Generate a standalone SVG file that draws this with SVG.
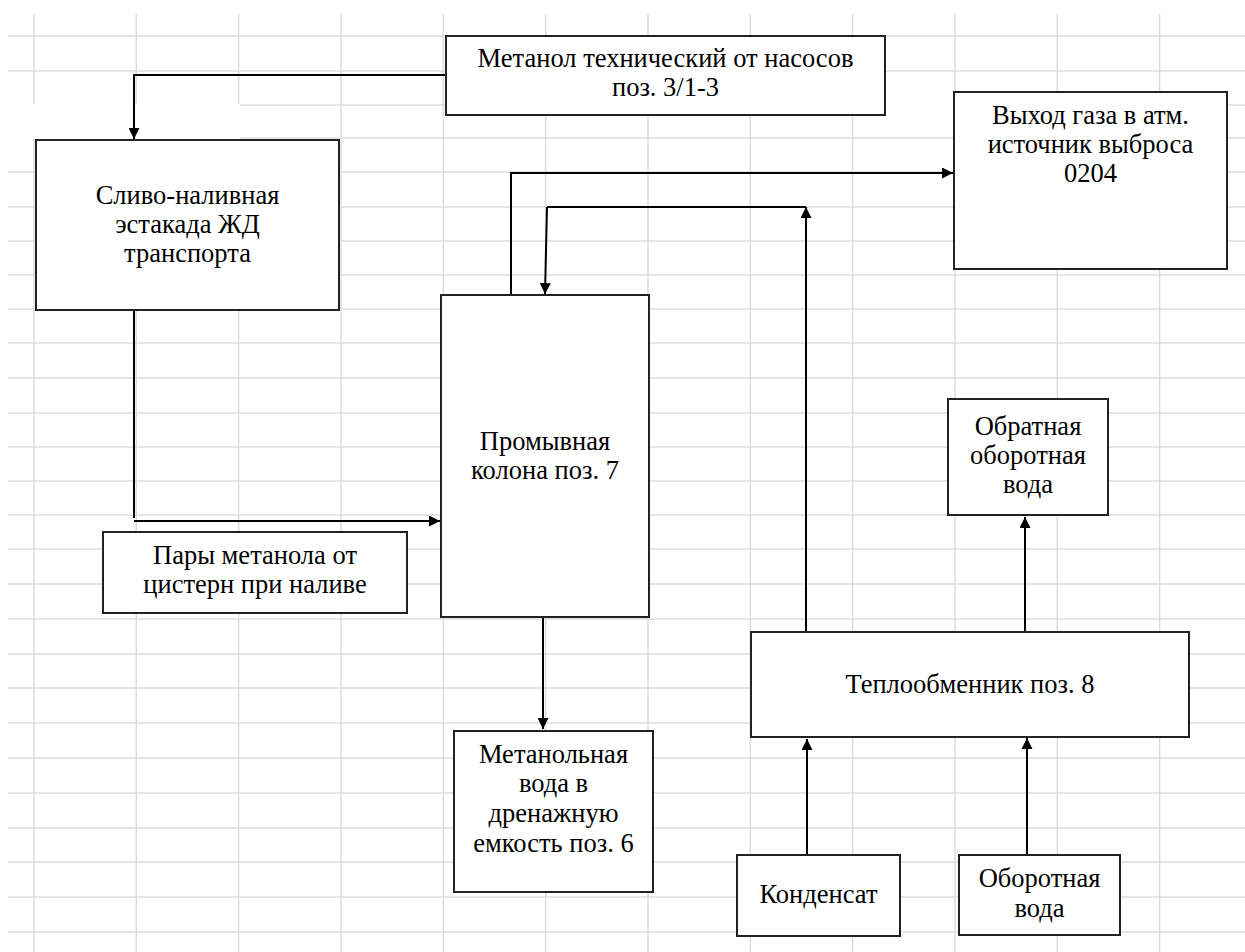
<svg xmlns="http://www.w3.org/2000/svg" width="1245" height="952" viewBox="0 0 1245 952">
<style>
.grid line{stroke:#dcdcdc;stroke-width:1.5}
.box{fill:#fff;stroke:#222;stroke-width:2}
.t{font-family:"Liberation Serif","Times New Roman",serif;font-size:26.5px;fill:#000;text-anchor:middle}
.c{fill:none;stroke:#000;stroke-width:2}
.ca{fill:none;stroke:#000;stroke-width:2;marker-end:url(#ah)}
</style>
<defs>
<marker id="ah" viewBox="0 0 10 10" markerUnits="userSpaceOnUse" markerWidth="12" markerHeight="11" refX="10" refY="5" orient="auto">
<path d="M0,0 L10,5 L0,10 z" fill="#000"/>
</marker>
</defs>
<rect width="1245" height="952" fill="#fff"/>
<g class="grid">
<line x1="8" y1="36" x2="1245" y2="36"/>
<line x1="8" y1="71" x2="1245" y2="71"/>
<line x1="238" y1="105" x2="446" y2="105"/>
<line x1="1227" y1="105" x2="1245" y2="105"/>
<line x1="238" y1="138" x2="1245" y2="138"/>
<line x1="8" y1="172" x2="1245" y2="172"/>
<line x1="8" y1="207" x2="1245" y2="207"/>
<line x1="8" y1="241" x2="1245" y2="241"/>
<line x1="8" y1="275" x2="1245" y2="275"/>
<line x1="8" y1="309" x2="1245" y2="309"/>
<line x1="8" y1="343" x2="1245" y2="343"/>
<line x1="8" y1="378" x2="1245" y2="378"/>
<line x1="8" y1="413" x2="1245" y2="413"/>
<line x1="8" y1="447" x2="1245" y2="447"/>
<line x1="8" y1="481" x2="1245" y2="481"/>
<line x1="8" y1="515" x2="1245" y2="515"/>
<line x1="8" y1="549" x2="1245" y2="549"/>
<line x1="8" y1="584" x2="1245" y2="584"/>
<line x1="8" y1="619" x2="1245" y2="619"/>
<line x1="8" y1="654" x2="1245" y2="654"/>
<line x1="8" y1="688" x2="1245" y2="688"/>
<line x1="8" y1="723" x2="1245" y2="723"/>
<line x1="8" y1="758" x2="1245" y2="758"/>
<line x1="8" y1="793" x2="1245" y2="793"/>
<line x1="8" y1="828" x2="1245" y2="828"/>
<line x1="8" y1="862" x2="1245" y2="862"/>
<line x1="8" y1="897" x2="1245" y2="897"/>
<line x1="8" y1="932" x2="1245" y2="932"/>
<line x1="34" y1="14" x2="34" y2="952"/>
<line x1="136.3" y1="14" x2="136.3" y2="952"/>
<line x1="238.6" y1="14" x2="238.6" y2="952"/>
<line x1="341" y1="14" x2="341" y2="952"/>
<line x1="443.3" y1="14" x2="443.3" y2="952"/>
<line x1="545.6" y1="14" x2="545.6" y2="952"/>
<line x1="648" y1="14" x2="648" y2="952"/>
<line x1="750.3" y1="14" x2="750.3" y2="952"/>
<line x1="852.6" y1="14" x2="852.6" y2="952"/>
<line x1="955" y1="14" x2="955" y2="952"/>
<line x1="1057.3" y1="14" x2="1057.3" y2="952"/>
<line x1="1159.6" y1="14" x2="1159.6" y2="952"/>
</g>
<rect x="0" y="104" width="240" height="35" fill="#fff"/>
<g id="connectors">
<path class="ca" d="M446,75 H134 V139"/>
<path class="c" d="M134,310 V518"/>
<path class="ca" d="M134,521 H440"/>
<path class="ca" d="M511,295 V173 H953"/>
<path class="ca" d="M806,632 V207"/>
<path class="c" d="M547,207 H806"/>
<path class="ca" d="M547,207 L545,294"/>
<path class="ca" d="M543,618 V729"/>
<path class="ca" d="M807,855 V739"/>
<path class="ca" d="M1027,855 V738"/>
<path class="ca" d="M1025,632 V517"/>
</g>
<g id="metanol">
<rect class="box" x="446" y="36" width="439" height="79"/>
<text class="t" x="665.5" y="67">Метанол технический от насосов</text>
<text class="t" x="665.5" y="96">поз. 3/1-3</text>
</g>
<g id="estakada">
<rect class="box" x="36" y="140" width="303" height="170"/>
<text class="t" x="187.5" y="204">Сливо-наливная</text>
<text class="t" x="187.5" y="233">эстакада ЖД</text>
<text class="t" x="187.5" y="262">транспорта</text>
</g>
<g id="vyhod">
<rect class="box" x="954" y="92" width="273" height="177"/>
<text class="t" x="1090.5" y="124">Выход газа в атм.</text>
<text class="t" x="1090.5" y="153">источник выброса</text>
<text class="t" x="1090.5" y="182">0204</text>
</g>
<g id="kolona">
<rect class="box" x="441" y="295" width="208" height="322"/>
<text class="t" x="545" y="450">Промывная</text>
<text class="t" x="545" y="479">колона поз. 7</text>
</g>
<g id="pary">
<rect class="box" x="103" y="532" width="304" height="81"/>
<text class="t" x="255" y="564">Пары метанола от</text>
<text class="t" x="255" y="593">цистерн при наливе</text>
</g>
<g id="drenazh">
<rect class="box" x="454" y="731" width="199" height="161"/>
<text class="t" x="553.5" y="763">Метанольная</text>
<text class="t" x="553.5" y="792">вода в</text>
<text class="t" x="553.5" y="822">дренажную</text>
<text class="t" x="553.5" y="852">емкость поз. 6</text>
</g>
<g id="teploobmennik">
<rect class="box" x="751" y="632" width="438" height="105"/>
<text class="t" x="970" y="693">Теплообменник поз. 8</text>
</g>
<g id="obratnaya">
<rect class="box" x="948" y="399" width="160" height="116"/>
<text class="t" x="1028" y="435">Обратная</text>
<text class="t" x="1028" y="464">оборотная</text>
<text class="t" x="1028" y="493">вода</text>
</g>
<g id="kondensat">
<rect class="box" x="737" y="855" width="163" height="81"/>
<text class="t" x="818.5" y="903">Конденсат</text>
</g>
<g id="oborotnaya">
<rect class="box" x="959" y="855" width="161" height="80"/>
<text class="t" x="1039.5" y="887">Оборотная</text>
<text class="t" x="1039.5" y="917">вода</text>
</g>
</svg>
